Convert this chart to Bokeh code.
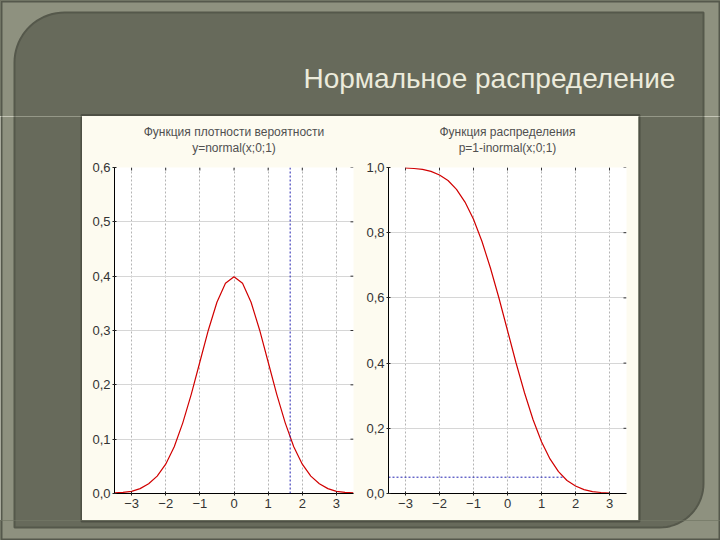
import numpy as np
from bokeh.plotting import figure
from bokeh.layouts import row, column
from bokeh.models import Range1d, FixedTicker, CustomJSTickFormatter, Span
from bokeh.core.properties import value
from bokeh.embed import file_html
from bokeh.resources import INLINE

# ---------------- data ----------------
slide_title = "Нормальное распределение"
pdf_title = ["Функция плотности вероятности", "y=normal(x;0;1)"]
sf_title = ["Функция распределения", "p=1-inormal(x;0;1)"]

pdf_x = [-3.5, -3.25, -3.0, -2.75, -2.5, -2.25, -2.0, -1.75, -1.5, -1.25, -1.0,
         -0.75, -0.5, -0.25, 0.0, 0.25, 0.5, 0.75, 1.0, 1.25, 1.5, 1.75, 2.0,
         2.25, 2.5, 2.75, 3.0, 3.25, 3.5]
pdf_y = [0.001, 0.002, 0.004, 0.009, 0.018, 0.032, 0.054, 0.086, 0.130, 0.183, 0.242,
         0.301, 0.352, 0.387, 0.399, 0.387, 0.352, 0.301, 0.242, 0.183, 0.130, 0.086, 0.054,
         0.032, 0.018, 0.009, 0.004, 0.002, 0.001]

sf_x = [-3.0, -2.75, -2.5, -2.25, -2.0, -1.75, -1.5, -1.25, -1.0, -0.75, -0.5, -0.25,
        0.0, 0.25, 0.5, 0.75, 1.0, 1.25, 1.5, 1.75, 2.0, 2.25, 2.5, 2.75, 3.0]
sf_y = [0.999, 0.997, 0.994, 0.988, 0.977, 0.960, 0.933, 0.894, 0.841, 0.773, 0.691, 0.599,
        0.500, 0.401, 0.309, 0.227, 0.159, 0.106, 0.067, 0.040, 0.023, 0.012, 0.006, 0.003, 0.001]

x_ticks = [-3, -2, -1, 0, 1, 2, 3]
pdf_y_ticks = [0.0, 0.1, 0.2, 0.3, 0.4, 0.5, 0.6]
sf_y_ticks = [0.0, 0.2, 0.4, 0.6, 0.8, 1.0]
x_min, x_max = -3.5, 3.5
crit_x = 1.645
alpha = 0.05

# ---------------- styles ----------------
FRAME = "#8e917f"
PANEL = "#676a5b"
PANEL_EDGE = "#55584b"
CREAM = "#fdfbf0"
CURVE = "#d10000"
BLUE = "#2222b0"
FONT = "Liberation Sans"


# panel outline (slide decoration, in page pixel coordinates)
def panel_shape(l=14, t=12, r=703, b=527, r1=50, r2=44):
    a1 = np.linspace(np.pi, 1.5 * np.pi, 20)
    a2 = np.linspace(0.0, 0.5 * np.pi, 20)
    xs = [l + r1, r, r]
    ys = [t, t, b - r2]
    xs += list(r - r2 + r2 * np.cos(a2))
    ys += list(b - r2 + r2 * np.sin(a2))
    xs += [l, l]
    ys += [b, t + r1]
    xs += list(l + r1 + r1 * np.cos(a1))
    ys += list(t + r1 + r1 * np.sin(a1))
    return xs, ys


PX, PY = panel_shape()


def blank(x0, x1, y0, y1, bg):
    f = figure(width=int(x1 - x0), height=int(y1 - y0),
               x_range=Range1d(x0, x1), y_range=Range1d(y1, y0),
               x_axis_type=None, y_axis_type=None,
               toolbar_location=None, output_backend="svg", min_border=0,
               frame_align=False)
    f.outline_line_color = None
    f.background_fill_color = bg
    f.border_fill_color = bg
    return f


def deco(x0, x1, y0, y1):
    f = blank(x0, x1, y0, y1, FRAME)
    f.border_fill_color = PANEL
    f.quad(left=[1], right=[719], top=[1], bottom=[539], fill_color=None,
           line_color="#55584c", line_width=2)
    f.patch(PX, PY, fill_color=PANEL, line_color=PANEL_EDGE, line_width=2)
    f.quad(left=[81], right=[639], top=[114.5], bottom=[521], fill_color=None,
           line_color="#4e5045", line_width=2)
    return f


top = deco(0, 720, 0, 116)
top.text(x=[303], y=[78], text=[slide_title], text_font=value(FONT),
         text_font_size="28px", text_color="#ecebdb",
         text_align="left", text_baseline="alphabetic")
left = deco(0, 82, 116, 520)
right = deco(638, 720, 116, 520)
bottom = deco(0, 720, 520, 540)


def title_fig(x0, x1, cx, lines):
    f = blank(x0, x1, 116, 157, CREAM)
    f.text(x=[cx, cx], y=[131, 147], text=lines, text_font=value(FONT),
           text_font_size="12px", text_color="#505050",
           text_align="center", text_baseline="middle")
    return f


def make_plot(width, border_left, border_right, y_end, y_ticks):
    p = figure(width=width, height=363, x_range=Range1d(x_min, x_max),
               y_range=Range1d(0, y_end), toolbar_location=None,
               output_backend="svg", min_border_left=border_left,
               min_border_right=border_right, min_border_top=10,
               min_border_bottom=27, frame_align=False)
    p.background_fill_color = "white"
    p.border_fill_color = CREAM
    p.outline_line_color = None
    xb = p.below[0]
    yl = p.left[0]
    for ax in (xb, yl):
        ax.axis_line_color = "black"
        ax.axis_line_width = 1
        ax.major_tick_line_color = "#222222"
        ax.major_tick_in = 2
        ax.major_tick_out = 2
        ax.minor_tick_line_color = None
        ax.major_label_text_font = FONT
        ax.major_label_text_font_size = "13px"
        ax.major_label_text_color = "#333333"
    xb.ticker = FixedTicker(ticks=x_ticks)
    yl.ticker = FixedTicker(ticks=y_ticks)
    yl.formatter = CustomJSTickFormatter(
        code="return tick.toFixed(1).replace('.', ',');")
    xb.major_label_standoff = 3
    yl.major_label_standoff = 2
    p.xgrid.ticker = FixedTicker(ticks=x_ticks)
    p.xgrid.grid_line_color = "#b4b4b4"
    p.xgrid.grid_line_dash = "2 2"
    p.ygrid.ticker = FixedTicker(ticks=y_ticks[1:-1])
    p.ygrid.grid_line_color = "#d6d6d6"
    # small inward tick marks on the top and right edges (at the tick values)
    p.ray(x=x_ticks, y=[y_end] * len(x_ticks), length=3, length_units="screen",
          angle=-np.pi / 2, line_color="#333333", line_width=1)
    p.ray(x=[x_max] * len(y_ticks), y=y_ticks, length=3, length_units="screen",
          angle=np.pi, line_color="#333333", line_width=1)
    return p


t1 = title_fig(82, 362, 233.5, pdf_title)
p1 = make_plot(280, 32, 9, 0.6, pdf_y_ticks)
p1.line(pdf_x, pdf_y, line_color=CURVE, line_width=1.2)
p1.add_layout(Span(location=crit_x, dimension="height", line_color=BLUE,
                   line_dash="2 2", line_width=1))

t2 = title_fig(362, 638, 507, sf_title)
p2 = make_plot(276, 26, 12, 1.0, sf_y_ticks)
p2.line([x_min, crit_x], [alpha, alpha], line_color=BLUE, line_dash="2 2", line_width=1)
p2.line(sf_x, sf_y, line_color=CURVE, line_width=1.2)

col1 = column(t1, p1, styles={"background-color": CREAM})
col2 = column(t2, p2, styles={"background-color": CREAM})
middle = row(left, col1, col2, right, styles={"background-color": CREAM})
layout = column(top, middle, bottom, styles={"background-color": PANEL})

open("out.html", "w").write(file_html(layout, INLINE))
